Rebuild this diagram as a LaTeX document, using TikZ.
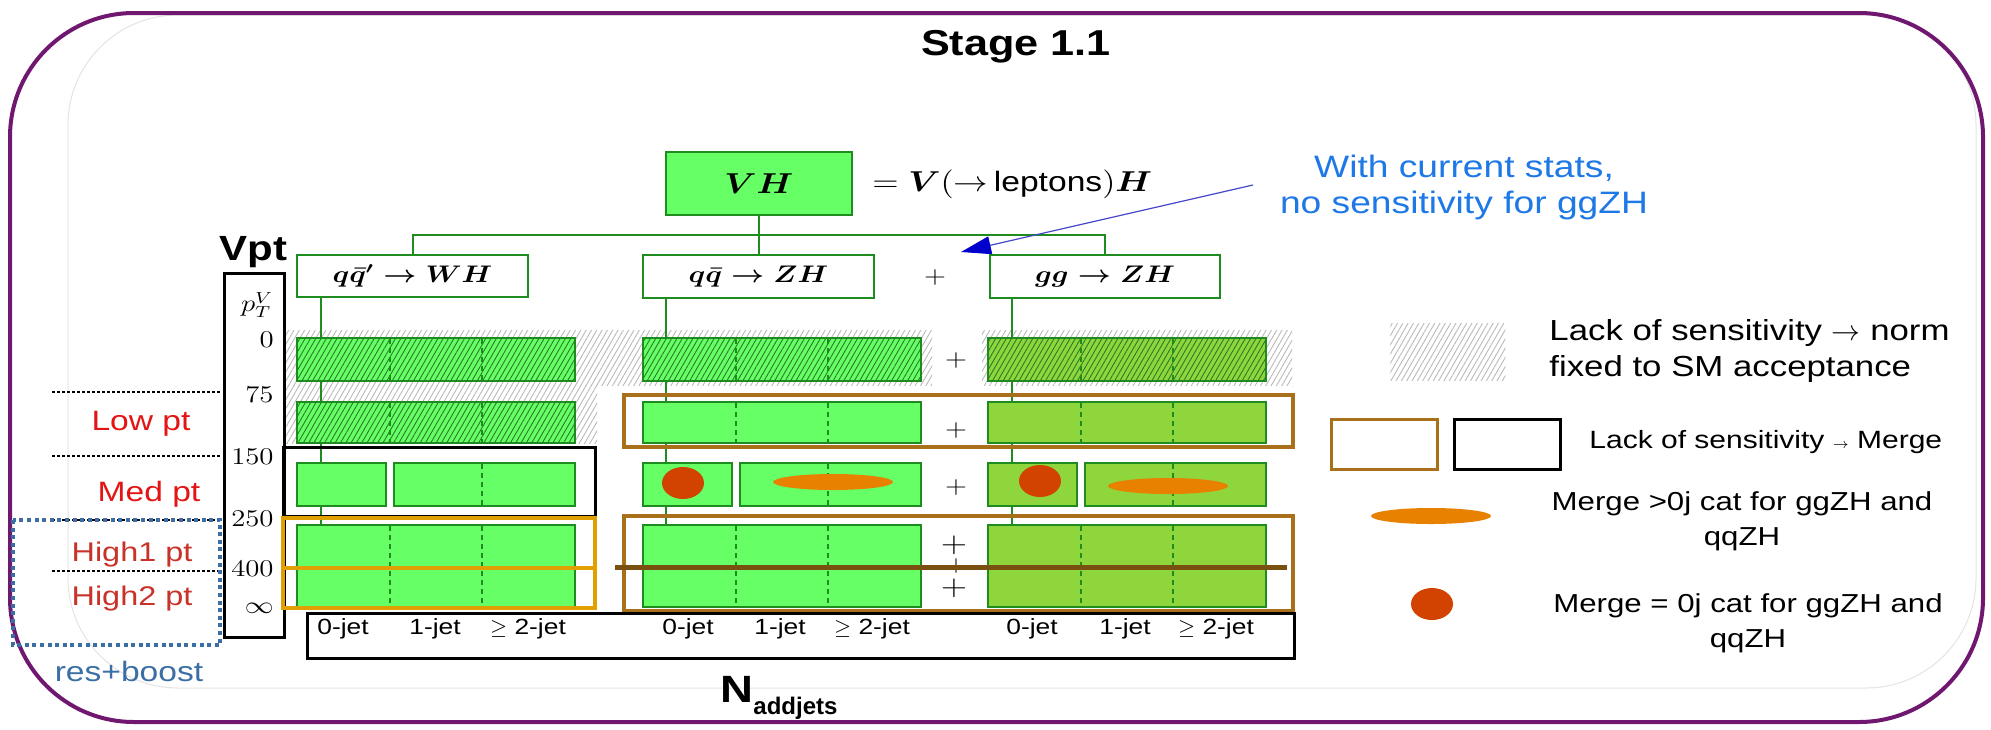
\documentclass[tikz,border=0pt]{standalone}
\usepackage{fontspec}
\usepackage{amsmath}
\setmainfont{Liberation Sans}[FakeStretch=1.2]
\newfontfamily\plainsans{Liberation Sans}
\usetikzlibrary{patterns.meta,arrows.meta,shapes.geometric}
\definecolor{purp}{RGB}{112,24,112}
\definecolor{boxgreen}{RGB}{102,255,102}
\definecolor{gggreen}{RGB}{143,214,60}
\definecolor{bgreen}{RGB}{30,140,30}
\definecolor{hgreen}{RGB}{40,125,40}
\definecolor{brownbox}{RGB}{168,112,26}
\definecolor{darkbrown}{RGB}{122,80,16}
\definecolor{goldbox}{RGB}{224,160,0}
\definecolor{dotred}{RGB}{210,66,0}
\definecolor{ellorange}{RGB}{232,128,0}
\definecolor{lblred}{RGB}{228,20,20}
\definecolor{lblredtwo}{RGB}{200,50,40}
\definecolor{steel}{RGB}{58,110,165}
\definecolor{noteblue}{RGB}{30,120,230}
\definecolor{arrowblue}{RGB}{0,0,205}
\definecolor{arrowline}{RGB}{70,70,200}
\newcommand\hs[1]{\scalebox{1.2}[1]{#1}}
\newcommand\fs[2]{\fontsize{#1pt}{#2pt}\selectfont}
\pgfdeclarelayer{bg}
\pgfsetlayers{bg,main}
\tikzset{
  bw/.style={minimum width={#1*0.5pt}},
  bh/.style={minimum height={#1*0.5pt}},
  cell/.style={draw=bgreen, line width=1.2pt, inner sep=0pt, outer sep=0pt, anchor=north west},
  procbox/.style={cell, fill=white},
  boxhatch/.style={pattern={Lines[angle=60,distance=2.3pt,line width=0.45pt]}, pattern color=hgreen},
  bghatch/.style={pattern={Lines[angle=60,distance=2.3pt,line width=0.45pt]}, pattern color=gray!55},
  tree/.style={draw=bgreen, line width=1pt},
  jetdash/.style={draw=bgreen, line width=0.8pt, dash pattern=on 2.5pt off 2pt},
  numlbl/.style={anchor=east, inner sep=0pt},
  jetlbl/.style={inner sep=0pt, font=\fs{11}{13}},
  ptlbl/.style={inner sep=0pt, font=\fs{14}{17}},
  plussign/.style={inner sep=0pt},
  mergeblack/.style={draw=black, line width=1.5pt},
  mergegold/.style={draw=goldbox, line width=2pt},
  mergebrown/.style={draw=brownbox, line width=2pt},
  dotline/.style={draw=black, line width=0.6pt, dash pattern=on 1.5pt off 1pt},
  redblob/.style={ellipse, fill=dotred, inner sep=0pt, minimum width=21pt, minimum height=16pt},
  orangeblob/.style={ellipse, fill=ellorange, inner sep=0pt, minimum width=60pt, minimum height=8pt},
}
\newcommand\mkrows[3]{%
  \node[cell, fill=#3, bw=278, bh=43] (#1r0) at (#2,338) {};
  \node[cell, fill=#3, bw=278, bh=41] (#1r75) at (#2,402) {};
  \node[cell, fill=#3, bw=89, bh=43] (#1r150a) at (#2,463) {};
  \node[cell, fill=#3, bw=181, bh=43] (#1r150b) at ({#2+97},463) {};
  \node[cell, fill=#3, bw=278, bh=82] (#1r250) at (#2,525) {};
}
\newcommand\mkdashes[1]{%
  \foreach \dx in {93,185} {
    \draw[jetdash] ({#1+\dx},339) -- ({#1+\dx},380);
    \draw[jetdash] ({#1+\dx},403) -- ({#1+\dx},442);
    \draw[jetdash] ({#1+\dx},526) -- ({#1+\dx},606);
  }
  \draw[jetdash] ({#1+185},464) -- ({#1+185},505);
}
\begin{document}
\begin{tikzpicture}[x=0.5pt,y=-0.5pt]
\useasboundingbox (0,0) rectangle (1991,729);
% frames
\draw[gray!22, line width=0.5pt, rounded corners=55pt] (68,15) rectangle (1976,688);
\draw[purp, line width=2pt, rounded corners=62pt] (10,13) rectangle (1983,722);

% title
\node[font=\fs{18}{21}\bfseries] (title) at (1016,47) {Stage 1.1};

% top tree
\node[cell, fill=boxgreen, line width=1.3pt, bw=186, bh=63] (vh) at (666,152) {\hs{\fs{14}{16}\boldmath$VH$}};
\node[anchor=west, inner sep=0pt] (eq) at (872,184) {\hs{\fs{14}{16}$=\boldsymbol{V}(\rightarrow$\,{\plainsans leptons}$)\boldsymbol{H}$}};
\node[procbox, bw=231, bh=42] (wh) at (297,255) {\hs{\fs{11.5}{13}\boldmath$q\bar{q}'\to WH$}};
\node[procbox, bw=231, bh=43] (qqzh) at (643,255) {\hs{\fs{11.5}{13}\boldmath$q\bar{q}\to ZH$}};
\node[procbox, bw=230, bh=43] (ggzh) at (990,255) {\hs{\fs{11.5}{13}\boldmath$gg\to ZH$}};
\node[plussign] (plustop) at (935,277) {\hs{\fs{13}{15}$+$}};

% rows
\mkrows{wh}{297}{boxgreen}
\mkrows{qq}{643}{boxgreen}
\mkrows{gg}{988}{gggreen}
\fill[boxhatch] (whr0.north west) rectangle (whr0.south east);
\fill[boxhatch] (whr75.north west) rectangle (whr75.south east);
\fill[boxhatch] (qqr0.north west) rectangle (qqr0.south east);
\fill[boxhatch] (ggr0.north west) rectangle (ggr0.south east);
\mkdashes{297}
\mkdashes{643}
\mkdashes{988}

% background hatch and connectors
\begin{pgfonlayer}{bg}
  \fill[bghatch] (285,330) rectangle (932,385);
  \fill[bghatch] (982,330) rectangle (1292,385);
  \fill[bghatch] (285,385) rectangle (597,443);
  \draw[tree] (vh.south) -- (vh.south |- qqzh.north);
  \draw[tree] (wh.north) -- ++(0,-20) -| (ggzh.north);
  \draw[tree] ([xshift=12pt]wh.south west) -- ([xshift=12pt]wh.south west |- whr250.north);
  \draw[tree] ([xshift=11.5pt]qqzh.south west) -- ([xshift=11.5pt]qqzh.south west |- qqr250.north);
  \draw[tree] ([xshift=11pt]ggzh.south west) -- ([xshift=11pt]ggzh.south west |- ggr250.north);
\end{pgfonlayer}

% plus signs between qq and gg
\node[plussign] (p0) at (956,360) {\hs{\fs{13}{15}$+$}};
\node[plussign] (p75) at (956,430) {\hs{\fs{13}{15}$+$}};
\node[plussign] (p150) at (956,487) {\hs{\fs{13}{15}$+$}};
\node[plussign] (p250a) at (954,545) {\hs{\fs{15}{17}$+$}};
\node[plussign] (p250m) at (956,566) {\hs{\fs{11}{13}$+$}};
\node[plussign] (p250b) at (954,588) {\hs{\fs{15}{17}$+$}};

% merge blobs
\node[redblob] (qqdot) at (683,483) {};
\node[orangeblob] (qqell) at (833,482) {};
\node[redblob] (ggdot) at (1040,481) {};
\node[orangeblob] (ggell) at (1168,486) {};

% Vpt axis
\node[draw=black, line width=1.5pt, anchor=north west, bw=60, bh=364, inner sep=0pt] (vptbox) at (223,272) {};
\node[anchor=base west, inner sep=0pt, font=\fs{17.5}{20}\bfseries] (vpt) at (219,260) {Vpt};
\node[inner sep=0pt] (ptv) at (257,305) {\hs{\fs{11.5}{13}$p_T^V$}};
\node[numlbl] (n0) at (274,340) {\hs{\fs{11.5}{13}$0$}};
\node[numlbl] (n75) at (274,395) {\hs{\fs{11.5}{13}$75$}};
\node[numlbl] (n150) at (274,457) {\hs{\fs{11.5}{13}$150$}};
\node[numlbl] (n250) at (274,519) {\hs{\fs{11.5}{13}$250$}};
\node[numlbl] (n400) at (274,569) {\hs{\fs{11.5}{13}$400$}};
\node[numlbl] (ninf) at (274,608) {\hs{\fs{11.5}{13}$\infty$}};

% merge boxes
\draw[mergeblack] (283,447) rectangle (595,516);
\draw[mergegold] (283,518) rectangle (595,608);
\draw[mergegold] (283,568) -- (595,568);
\draw[mergebrown] (624,395) rectangle (1293,447);
\draw[mergebrown] (624,516) rectangle (1293,611);
\draw[draw=darkbrown, line width=2.5pt] (615,567) -- (1287,567);

% jet box
\node[draw=black, line width=1.5pt, anchor=north west, bw=987, bh=45, inner sep=0pt] (jetbox) at (306,612) {};
\node[jetlbl] (j1) at (343,629) {0-jet};
\node[jetlbl] (j2) at (435,629) {1-jet};
\node[jetlbl] (j3) at (528,629) {$\geq$ 2-jet};
\node[jetlbl] (j4) at (688,629) {0-jet};
\node[jetlbl] (j5) at (780,629) {1-jet};
\node[jetlbl] (j6) at (872,629) {$\geq$ 2-jet};
\node[jetlbl] (j7) at (1032,629) {0-jet};
\node[jetlbl] (j8) at (1125,629) {1-jet};
\node[jetlbl] (j9) at (1216,629) {$\geq$ 2-jet};
\node[anchor=base west, inner sep=0pt, font=\fs{19}{22}\bfseries] (nlab) at (720,702) {N};
\node[anchor=base west, inner sep=0pt, font={\plainsans\fs{12}{14}\bfseries}] (nsub) at (753,714) {addjets};

% left labels
\draw[dotline] (52,392) -- (222,392);
\draw[dotline] (52,456) -- (222,456);
\draw[dotline] (52,520) -- (222,520);
\draw[dotline] (52,571) -- (222,571);
\draw[draw=steel, line width=1.75pt, dash pattern=on 2pt off 1.8pt] (13,520) rectangle (220,645);
\node[ptlbl, text=lblred] (lowpt) at (141,424) {Low pt};
\node[ptlbl, text=lblred] (medpt) at (149,494) {Med pt};
\node[ptlbl, text=lblredtwo, font=\fs{13.5}{16}] (high1) at (132,555) {High1 pt};
\node[ptlbl, text=lblredtwo, font=\fs{13.5}{16}] (high2) at (132,599) {High2 pt};
\node[ptlbl, text=steel] (resboost) at (129,671) {res+boost};

% note with arrow
\node[align=center, inner sep=0pt, text=noteblue, font=\fs{15.5}{18}] (note) at (1464,187) {With current stats,\\no sensitivity for ggZH};
\coordinate (arrstart) at (1253,185);
\coordinate (arrend) at (961,252);
\draw[arrowline, line width=0.6pt, -{Triangle[length=15pt,width=9pt,color=arrowblue]}] (arrstart) -- (arrend);

% legend
\node[anchor=north west, bw=115, bh=57, inner sep=0pt, bghatch] (leghatch) at (1390,323) {};
\node[anchor=west, align=left, inner sep=0pt, font=\fs{14.5}{18}] (legtxt1) at (1549,351) {Lack of sensitivity $\rightarrow$ norm\\fixed to SM acceptance};
\node[anchor=north west, bw=106, bh=50, inner sep=0pt, draw=brownbox, line width=1.5pt] (legbrown) at (1330,418) {};
\node[anchor=north west, bw=106, bh=50, inner sep=0pt, draw=black, line width=1.5pt] (legblack) at (1453,418) {};
\node[anchor=west, inner sep=0pt, font=\fs{12.5}{15}] (legtxt2) at (1589,442) {Lack of sensitivity {\scriptsize$\rightarrow$} Merge};
\node[orangeblob] (legell) at (1431,516) {};
\node[align=center, inner sep=0pt, font=\fs{13}{17.5}] (legtxt3) at (1742,521) {Merge >0j cat for ggZH and\\qqZH};
\node[redblob] (legdot) at (1432,604) {};
\node[align=center, inner sep=0pt, font=\fs{13}{17.5}] (legtxt4) at (1748,623) {Merge = 0j cat for ggZH and\\qqZH};
\end{tikzpicture}
\end{document}
